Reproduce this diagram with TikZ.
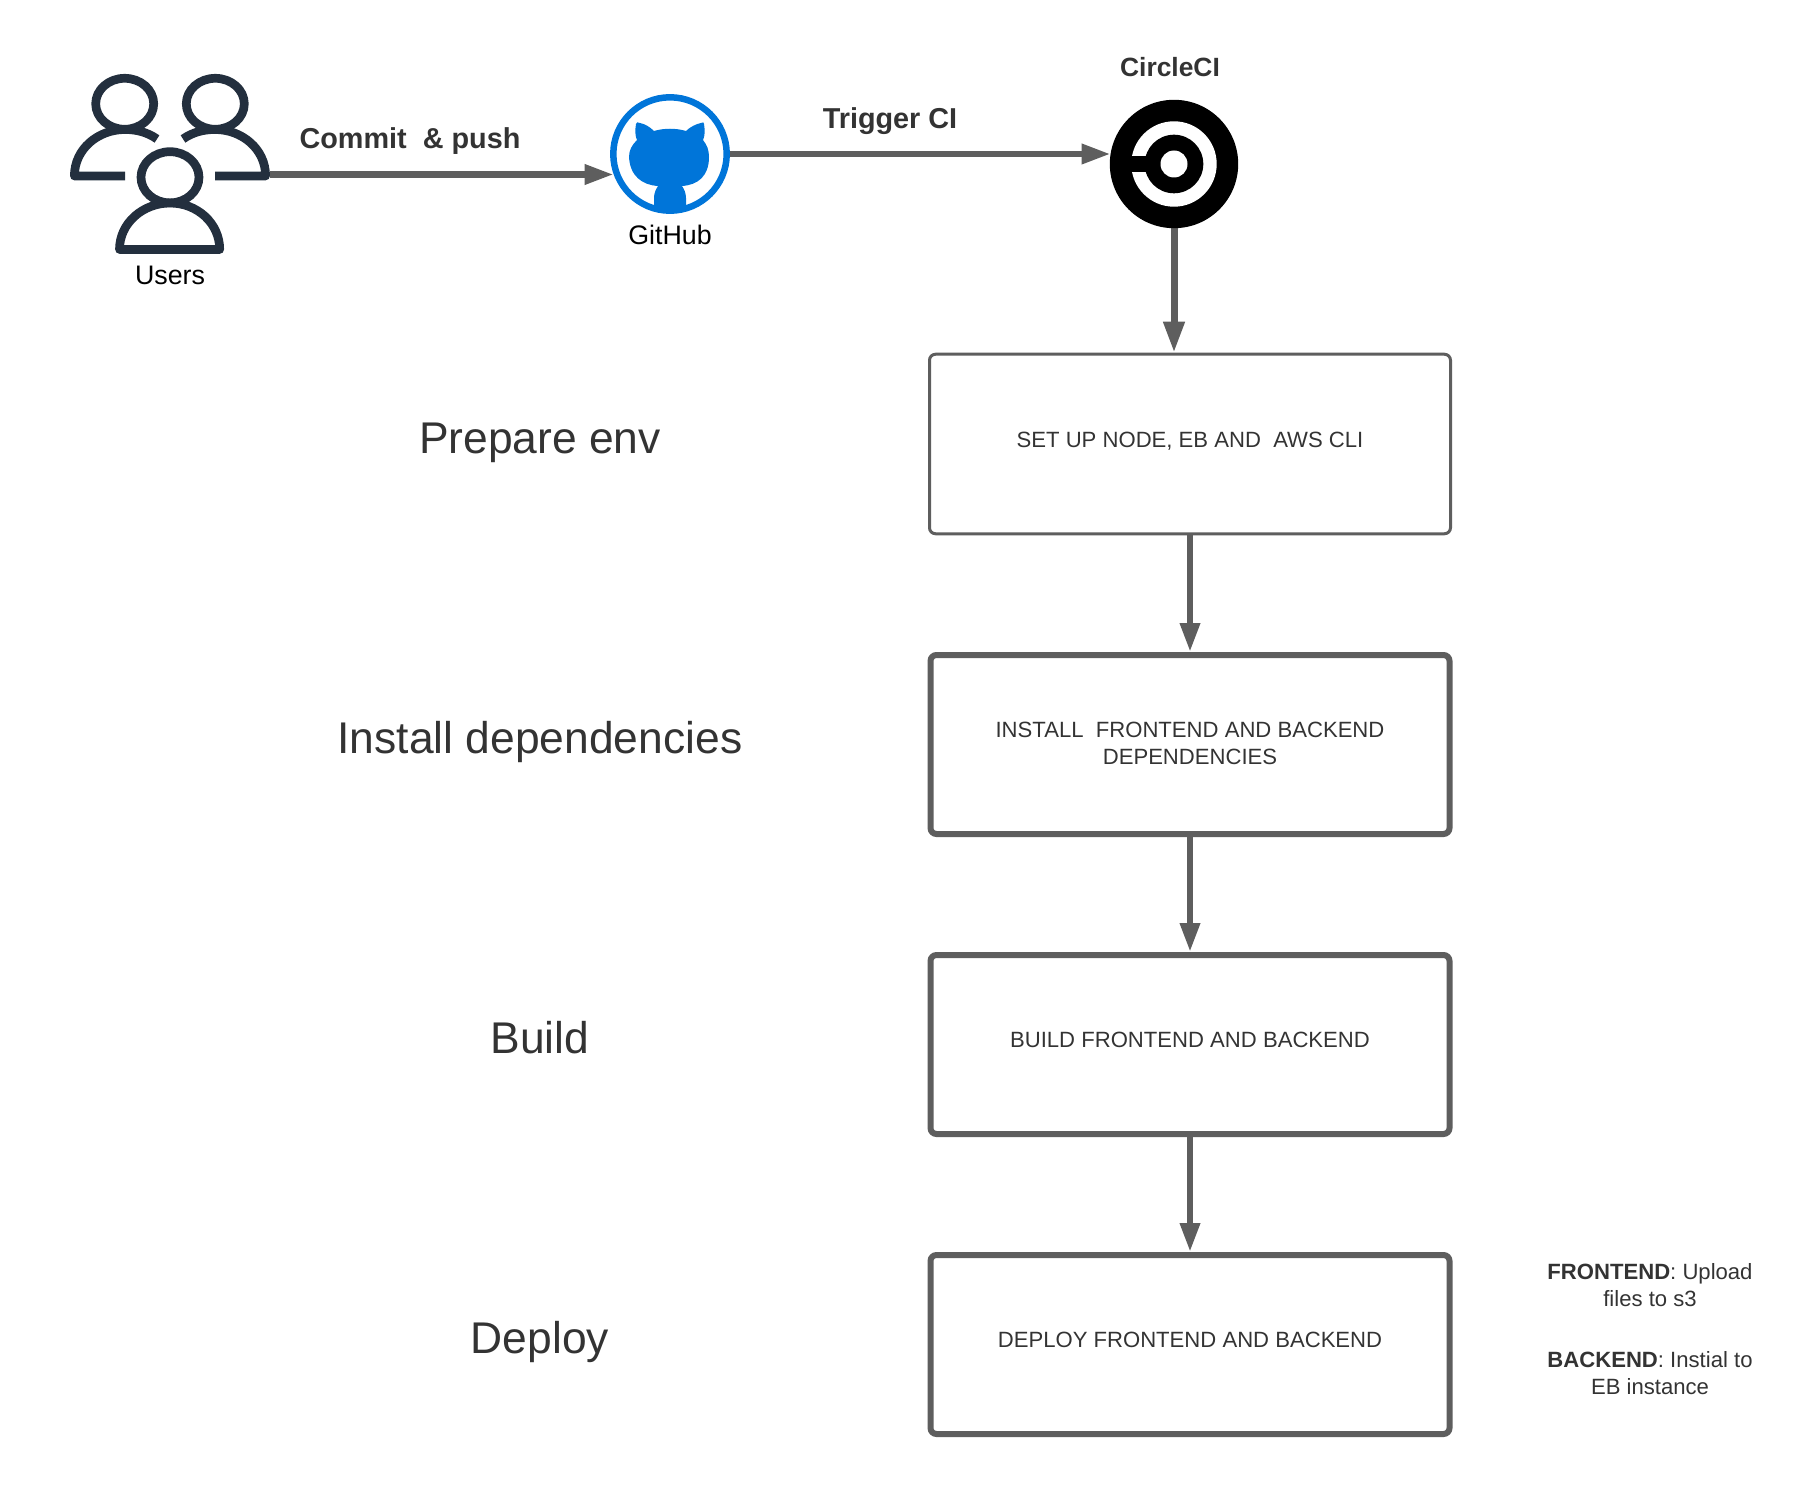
\documentclass[tikz,border=0pt]{standalone}
\usepackage{fontspec}
\setmainfont{Liberation Sans}
\usetikzlibrary{arrows.meta}
\definecolor{linegray}{HTML}{5E5E5E}
\definecolor{textdark}{HTML}{333333}
\definecolor{icondark}{HTML}{232F3E}
\definecolor{ghblue}{HTML}{0075D9}
\newcommand{\fs}[1]{\fontsize{#1}{#1}\selectfont}
\tikzset{
  conn/.style={draw=linegray,line width=6.5pt,-{Triangle[length=29pt,width=19pt]}},
  stepbox/.style={draw=linegray,line width=6pt,rounded corners=6pt,minimum width=519pt,minimum height=179pt,inner sep=0pt},
  stepthin/.style={stepbox,line width=3pt,minimum width=521pt,minimum height=179.5pt},
  boxtext/.style={text=textdark,font=\fs{22.1},align=center,inner sep=0pt},
  phase/.style={text=textdark,font=\fs{44.4},inner sep=0pt,text height=0.72em,text depth=0.2em},
  boldlabel/.style={text=textdark,font=\fs{28.8}\bfseries,inner sep=0pt},
  iconlabel/.style={text=black,font=\fs{26.8},inner sep=0pt},
  note/.style={text=textdark,font=\fs{22.1},align=center,inner sep=0pt},
  person/.style={draw=icondark,line width=8.7pt,line join=round},
  anchorbox/.style={inner sep=0pt,outer sep=0pt}
}
\begin{document}
\begin{tikzpicture}[x=1pt,y=-1pt]
\useasboundingbox (0,0) rectangle (1810,1487);
% icon anchors
\node[anchorbox,minimum width=200pt,minimum height=10pt] (users) at (170,174.5) {};
\node[anchorbox,circle,minimum size=120pt] (gh) at (670,154) {};
\node[anchorbox,circle,minimum size=128.4pt] (ci) at (1174,164) {};
% boxes
\node[stepthin] (box1) at (1190,444) {};
\node[stepbox] (box2) at (1190,744.5) {};
\node[stepbox] (box3) at (1190,1044.5) {};
\node[stepbox] (box4) at (1190,1344.5) {};
% connectors
\draw[conn] (users.east) -- (users.east -| gh.200);
\draw[conn] (gh.east) -- (gh.east -| ci.171);
\draw[conn,line width=7pt,-{Triangle[length=31pt,width=20pt]}] (ci.south) -- (ci.south |- box1.north);
\draw[conn] (box1) -- (box2);
\draw[conn] (box2) -- (box3);
\draw[conn] (box3) -- (box4);
% users icon
\draw[person,line cap=butt] (125,176) -- (74.4,176) .. controls (74.4,149) and (98,129.5) .. (125,129.5) .. controls (136,129.5) and (147,132) .. (157,139);
\draw[person,line cap=butt] (215,176) -- (265.6,176) .. controls (265.6,149) and (242,129.5) .. (215,129.5) .. controls (204,129.5) and (193,132) .. (183,139);
\draw[person,fill=white] (124.7,103.8) ellipse [x radius=29,y radius=25.5];
\draw[person,fill=white] (215.3,103.8) ellipse [x radius=29,y radius=25.5];
\draw[person,fill=white] (170,177.3) ellipse [x radius=29,y radius=25.6];
\draw[person] (119.5,249.5) .. controls (119.5,223) and (143,203) .. (170,203) .. controls (197,203) and (219.7,223) .. (219.7,249.5) -- cycle;
% github icon
\draw[ghblue,line width=6.5pt] (gh) circle [radius=56.7];
\begin{scope}
\clip (gh) circle [radius=56.7];
\fill[ghblue] (636,124) .. controls (636,122) and (638,122) .. (640,123) .. controls (645,124) and (650,127) .. (654,131) .. controls (664,128) and (676,128) .. (686,131) .. controls (690,127) and (696,124) .. (701,123) .. controls (703,122) and (704,122) .. (704,124) .. controls (705,130) and (705,136) .. (703,140) .. controls (707,145) and (709,150) .. (709,157) .. controls (709,176) and (698,185) .. (682,186) .. controls (684,189) and (686,193) .. (686,198) -- (686,215) -- (654,215) -- (654,198) .. controls (654,193) and (656,189) .. (658,186) .. controls (642,185) and (630,176) .. (629,157) .. controls (629,150) and (632,145) .. (637,140) .. controls (635,136) and (635,130) .. (636,124) -- cycle;
\end{scope}
% circleci icon
\fill[black] (ci) circle [radius=64.2];
\fill[white] (ci) circle [radius=42.7];
\fill[black] (ci) circle [radius=29.3];
\fill[black] (1131,156.5) rectangle (1160,172);
\fill[white] (ci) circle [radius=13.5];
% labels
\node[iconlabel] (userslabel) at (170,275) {Users};
\node[iconlabel] (ghlabel) at (670,235) {GitHub};
\node[boldlabel,font=\fs{26.4}\bfseries] (cilabel) at (1170,67) {CircleCI};
\node[boldlabel] (commitlabel) at (410,141) {Commit\ \ \& push};
\node[boldlabel] (triggerlabel) at (890,121) {Trigger CI};
% phases
\node[phase] (p1) at (540,451) {Prepare env};
\node[phase] (p2) at (540,751) {Install dependencies};
\node[phase] (p3) at (540,1051) {Build};
\node[phase] (p4) at (540,1351) {Deploy};
% box text
\node[boxtext] (t1) at (1190,441.5) {SET UP NODE, EB AND\ \ AWS CLI};
\node[boxtext] (t2) at (1190,743.5) {INSTALL\ \ FRONTEND AND BACKEND\\[5.5pt]DEPENDENCIES};
\node[boxtext] (t3) at (1190,1040) {BUILD FRONTEND AND BACKEND};
\node[boxtext] (t4) at (1190,1340) {DEPLOY FRONTEND AND BACKEND};
% notes
\node[note] (n1) at (1650,1285.5) {\textbf{FRONTEND}: Upload\\[5pt]files to s3};
\node[note] (n2) at (1650,1373) {\textbf{BACKEND}: Instial to\\[5pt]EB instance};
\end{tikzpicture}
\end{document}
